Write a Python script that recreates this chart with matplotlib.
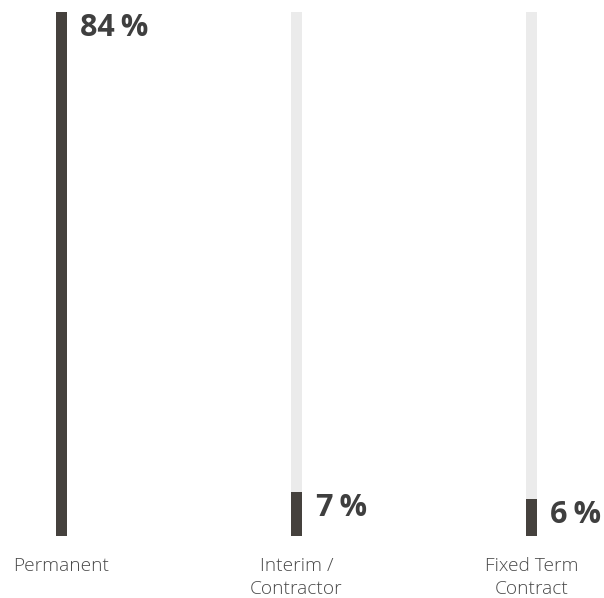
import matplotlib
matplotlib.use("Agg")
import matplotlib.pyplot as plt

categories = ["Permanent", "Interim /\nContractor", "Fixed Term\nContract"]
shares = [84, 7, 6]
value_labels = ["84\u2009%", "7\u2009%", "6\u2009%"]

track_color = "#ebebeb"
bar_color = "#45413d"
text_color = "#3f3f3f"

plt.rcParams["font.family"] = ["Open Sans", "DejaVu Sans"]

fig = plt.figure(figsize=(6.04, 5.98), dpi=100)
# axes spans the full width; bars sit between y=12px and y=536px
ax = fig.add_axes([0, 62 / 598, 1, 524 / 598])

pos = [0, 1, 2]
top = max(shares)
ax.bar(pos, [top] * len(pos), width=0.047, color=track_color, zorder=1)
ax.bar(pos, shares, width=0.047, color=bar_color, zorder=2)

for x, v, lab in zip(pos, shares, value_labels):
    ax.annotate(lab, xy=(x, v), xytext=(19, -1), textcoords="offset pixels",
                ha="left", va="top", fontsize=22, fontweight="bold",
                color=text_color)

ax.set_xlim(-61.5 / 235, (604 - 61.5) / 235)
ax.set_ylim(0, top)
ax.set_xticks(pos)
ax.set_xticklabels(categories, fontsize=13.8, color="#4a4a4a",
                   linespacing=1.35, fontweight="light")
ax.tick_params(axis="x", length=0, pad=15)
ax.set_yticks([])
for s in ax.spines.values():
    s.set_visible(False)

fig.savefig("out.png", dpi=100)
